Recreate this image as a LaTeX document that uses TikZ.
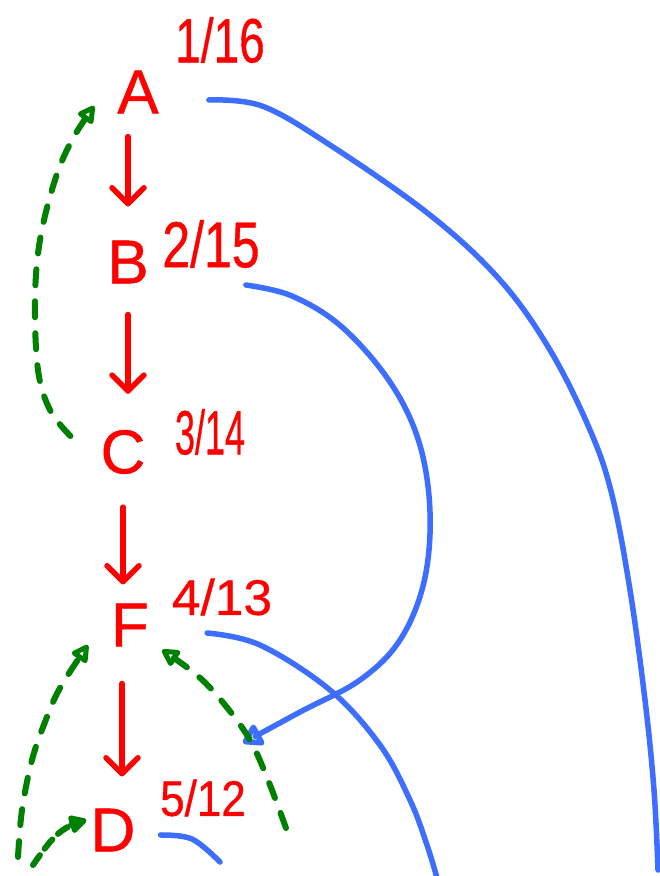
\documentclass[tikz,border=0pt]{standalone}
\usepackage{fontspec}
\usepackage{graphicx}
\setmainfont{Liberation Sans}
\newfontfamily\inkfont{Liberation Sans}[FakeBold=0.7]
\usetikzlibrary{arrows.meta}
\definecolor{inkred}{RGB}{255,0,0}
\definecolor{inkblue}{RGB}{61,110,255}
\definecolor{inkgreen}{RGB}{0,128,0}
\newcommand\numtxt[3]{\scalebox{#1}[#2]{#3}}
\begin{document}
\begin{tikzpicture}[x=1pt,y=-1pt,line cap=round,line join=round,
  vert/.style={text=inkred,inner sep=0pt,font=\inkfont\fontsize{62}{62}\selectfont},
  num/.style={text=inkred,inner sep=0pt,font=\inkfont\fontsize{50}{50}\selectfont},
  redarr/.style={draw=inkred,line width=5.5pt,-{Straight Barb[length=16pt,width=32pt,line width=5.5pt,round]}},
  bl/.style={draw=inkblue,line width=5.5pt},
  blarr/.style={bl,-{Triangle[open,length=22pt,width=26pt,line width=5.5pt,round]}},
  gr/.style={draw=inkgreen,line width=6pt,dash pattern=on 16pt off 16pt},
  grarr/.style={gr,-{Triangle[open,length=20pt,width=20pt,line width=5.5pt,round]}}]
\useasboundingbox (0,0) rectangle (660,876);
\fill[white] (0,0) rectangle (660,876);

% vertices
\node[vert] (A) at (138,92) {A};
\node[vert] (B) at (128,262) {B};
\node[vert] (C) at (123,452) {C};
\node[vert] (F) at (130,625) {F};
\node[vert] (D) at (113,830) {D};

% discovery / finish labels
\node[num] (lA) at (220,40) {\numtxt{0.92}{1.25}{1/16}};
\node[num] (lB) at (211,244) {\numtxt{1.0}{1.3}{2/15}};
\node[num] (lC) at (210,432) {\numtxt{0.72}{1.25}{3/14}};
\node[num] (lF) at (222,597) {\numtxt{1.03}{1.0}{4/13}};
\node[num] (lD) at (203,798) {\numtxt{0.88}{1.0}{5/12}};

% tree edges (red)
\draw[redarr,shorten <=23pt,shorten >=34pt] (A.south -| B.south) -- (B.north);
\draw[redarr,shorten <=31pt,shorten >=36pt] (B.south) -- (C.north -| B.north);
\draw[redarr,shorten <=33pt,shorten >=19pt] (C.south) -- (F.north -| C.north);
\draw[redarr,shorten <=37pt,shorten >=32pt] (F.south -| 122,0) -- (D.north -| 122,0);

% blue edges
\coordinate (Aout) at ([xshift=50pt,yshift=-8pt]A.east);
\coordinate (Aend) at (658,870);
\draw[bl] plot[smooth,tension=0.6] coordinates {(Aout) (262,106) (330,145) (430,215) (500,280) (550,350) (590,430) (612,495) (630,590) (645,700) (654,790) (Aend)};

\coordinate (Bout) at ([xshift=97pt,yshift=-23pt]B.east);
\coordinate (Bend) at (243,743);
\draw[blarr] plot[smooth,tension=0.6] coordinates {(Bout) (292,296) (342,327) (390,382) (419,442) (430,512) (424,582) (400,640) (360,680) (300,712) (Bend)};

\coordinate (Fout) at ([xshift=58pt,yshift=-8pt]F.east);
\coordinate (Fend) at (437,878);
\draw[bl] plot[smooth,tension=0.6] coordinates {(Fout) (260,645) (330,690) (380,745) (410,800) (427,845) (Fend)};

\coordinate (Dout) at ([xshift=25pt,yshift=-5pt]D.east);
\coordinate (Dend) at (220,862);
\draw[bl] plot[smooth,tension=0.6] coordinates {(Dout) (192,839) (Dend)};

% green back edges
\coordinate (Cin) at ([xshift=-30pt,yshift=16pt]C.west);
\draw[grarr] plot[smooth,tension=0.6] coordinates {(Cin) (50,410) (38,370) (35,300) (40,240) (55,180) (72,140) ([xshift=-23pt,yshift=-14pt]A.west)};

\coordinate (Lstart) at (18,857);
\draw[grarr] plot[smooth,tension=0.6] coordinates {(Lstart) (22,810) (32,760) (45,722) (60,688) ([xshift=-23pt,yshift=-20pt]F.west)};

\coordinate (Rstart) at (286,828);
\draw[grarr] plot[smooth,tension=0.6] coordinates {(Rstart) (268,780) (250,740) (225,705) (198,676) ([xshift=13pt,yshift=-25pt]F.east)};

\coordinate (Sstart) at (33,865);
\draw[grarr,dash pattern=on 12pt off 8pt] plot[smooth,tension=0.6] coordinates {(Sstart) (50,842) (66,828) ([xshift=-4pt,yshift=10pt]D.west)};
\end{tikzpicture}
\end{document}
